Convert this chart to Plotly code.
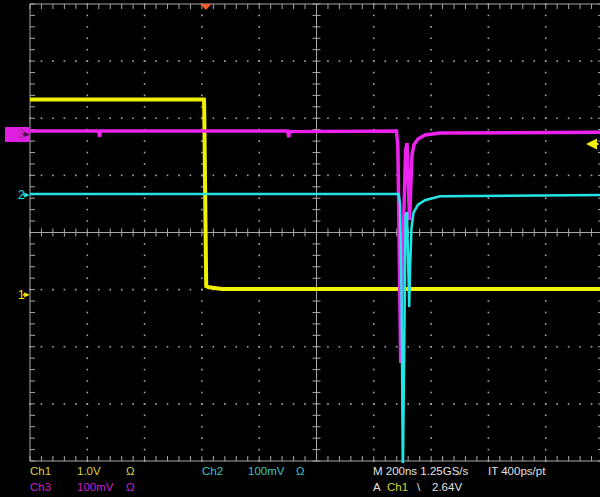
import plotly.graph_objects as go

# ---------------- scope settings (from the on-screen readout) ----------------
CH1_SCALE_V = 1.0        # V/div
CH2_SCALE_MV = 100.0     # mV/div
CH3_SCALE_MV = 100.0     # mV/div
CH1_POS_DIV = -1.09      # ground marker positions, divisions from centre
CH2_POS_DIV = 0.656
CH3_POS_DIV = 1.716
TRIGGER_T_NS = -386
TRIGGER_LEVEL_V = 2.64
TIME_PER_DIV_NS = 200

# ---------------- traces ----------------
CH1_T_NS = [-1000, -393, -392, -391, -389, -387, -385, -375, -360, -330, 1000]
CH1_V    = [3.42, 3.42, 3.30, 2.45, 1.20, 0.21, 0.15, 0.13, 0.12, 0.10, 0.10]

CH3_T_NS = [-1000, -760, -757, -754, -100, -97, -94, 279, 284, 294, 300, 306,
            311, 316, 321.1, 324.6, 328.1, 333.3, 340.3, 354.3, 378.7, 431, 1000]
CH3_MV   = [6, 6, -4, 6, 6, -5, 5, 6, -20, -400, -230, -80,
            -28, -15, -88, -150, -106, -36, -18, -8, -1, 2.5, 4]

CH2_T_NS = [-1000, 287, 292, 297, 301.5, 304.5, 307.5, 311, 315.9, 320.1, 323.6, 327.0,
            331.6, 338.6, 354.3, 378.7, 431, 1000]
CH2_MV   = [2, 2, -17, -184, -490, -324, -114, -35, -30, -114, -196, -122,
            -58, -31, -17, -9, -2, 0]

# ---------------- colours ----------------
YEL = "#f0f000"
MAG = "#ee22ee"
CYA = "#22e6e6"
GRID = "#a8a8a8"
TXT = "#e2e2e2"
TXT_Y = "#d6d63c"
TXT_C = "#3cc4c4"
TXT_M = "#cc22cc"

# ---------------- geometry ----------------
W, H = 600, 497
ML, MR, MT, MB = 27, 0, 2, 34
PW, PH = W - ML - MR, H - MT - MB
NS_PER_PX = TIME_PER_DIV_NS / 57.3
DIV_PER_PX = 1 / 57.125
X0 = -1000 - 3 * NS_PER_PX
Y0 = -4 - 2 * DIV_PER_PX


def px2paper(px, py):
    return (px - ML) / PW, (H - MB - py) / PH


fig = go.Figure()

# ---- graticule dots ----
dx, dy = [], []
for i in range(-4, 5):
    if i == 0:
        continue
    for k in range(-20, 21):
        dx.append(i * TIME_PER_DIV_NS)
        dy.append(k * 0.2)
for j in range(-3, 4):
    if j == 0:
        continue
    for k in range(-25, 26):
        dx.append(k * TIME_PER_DIV_NS / 5)
        dy.append(j)
fig.add_trace(go.Scatter(x=dx, y=dy, mode="markers", hoverinfo="skip",
                         marker=dict(symbol="square", size=1.6, color=GRID, line=dict(width=0))))

# ---- graticule lines and ticks ----
sx, sy = [], []


def seg(x0, y0, x1, y1):
    sx.extend([x0, x1, None])
    sy.extend([y0, y1, None])


seg(-1000, -4, -1000, 4)
seg(-1000, 4, 1000, 4)
seg(-1000, -4, 1000, -4)
seg(1000, -4, 1000, 4)
seg(-1000, 0, 1000, 0)
seg(0, -4, 0, 4)
tx, ty = 5 * NS_PER_PX, 5 * DIV_PER_PX
cx, cy = 4 * NS_PER_PX, 4 * DIV_PER_PX
for k in range(-25, 26):
    t = k * TIME_PER_DIV_NS / 5
    seg(t, 4, t, 4 - ty)
    seg(t, -4, t, -4 + ty)
    seg(t, -cy, t, cy)
for k in range(-20, 21):
    v = k * 0.2
    seg(-1000, v, -1000 + tx, v)
    seg(1000, v, 1000 - tx, v)
    seg(-cx, v, cx, v)
fig.add_trace(go.Scatter(x=sx, y=sy, mode="lines", hoverinfo="skip",
                         line=dict(color=GRID, width=1)))

# ---- signal traces ----
ch1_div = [v / CH1_SCALE_V + CH1_POS_DIV for v in CH1_V]
ch3_div = [v / CH3_SCALE_MV + CH3_POS_DIV for v in CH3_MV]
ch2_div = [v / CH2_SCALE_MV + CH2_POS_DIV for v in CH2_MV]
fig.add_trace(go.Scatter(x=CH1_T_NS, y=ch1_div, mode="lines", line=dict(color=YEL, width=4)))
fig.add_trace(go.Scatter(x=CH3_T_NS, y=ch3_div, mode="lines", line=dict(color=MAG, width=3.5)))
fig.add_trace(go.Scatter(x=CH2_T_NS, y=ch2_div, mode="lines", line=dict(color=CYA, width=2.5)))

shapes = []
ann = []
FONT = "Liberation Sans, Arial, sans-serif"

# trigger position marker (top)
_, yt0 = px2paper(0, 4)
_, yt1 = px2paper(0, 10)
shapes.append(dict(type="path", xref="x", yref="paper",
                   path=f"M {TRIGGER_T_NS - 5.5 * NS_PER_PX},{yt0} L {TRIGGER_T_NS + 5.5 * NS_PER_PX},{yt0} "
                        f"L {TRIGGER_T_NS},{yt1} Z",
                   fillcolor="#ff5a28", line=dict(width=0)))

# trigger level arrow (right)
ax_, _ = px2paper(586, 0)
ann.append(dict(x=ax_, xref="paper", y=TRIGGER_LEVEL_V / CH1_SCALE_V + CH1_POS_DIV, yref="y",
                ax=15, ay=0, text="", showarrow=True, arrowhead=2, arrowsize=1.1,
                arrowwidth=2, arrowcolor=YEL))

# channel ground markers (left)
bx0, by0 = px2paper(5, 127)
bx1, by1 = px2paper(29.5, 142)
shapes.append(dict(type="rect", xref="paper", yref="paper", x0=bx0, x1=bx1, y0=by1, y1=by0,
                   fillcolor="#e020e0", line=dict(width=0)))
markers = [("1", CH1_POS_DIV, YEL, YEL), ("2", CH2_POS_DIV, CYA, CYA), ("3", CH3_POS_DIV, "#9a2a9a", "#4a104a")]
for name, pos, tcol, acol in markers:
    x, _ = px2paper(15.5, 0)
    ann.append(dict(x=x, xref="paper", y=pos, yref="y", text=name, showarrow=False,
                    font=dict(family=FONT, size=12, color=tcol)))
    x, _ = px2paper(29.5, 0)
    ann.append(dict(x=x, xref="paper", y=pos, yref="y", ax=-8, ay=0, text="", showarrow=True,
                    arrowhead=2, arrowsize=0.7, arrowwidth=1.5, arrowcolor=acol))

# bottom readout
READOUT = [
    (30, 471.5, "Ch1", TXT_Y), (77, 471.5, "1.0V", TXT_Y), (126, 471.5, "Ω", TXT_Y),
    (202, 471.5, "Ch2", TXT_C), (248, 471.5, "100mV", TXT_C), (296, 471.5, "Ω", TXT_C),
    (30, 487, "Ch3", TXT_M), (77, 487, "100mV", TXT_M), (126, 487, "Ω", TXT_M),
    (373, 471.5, "M 200ns 1.25GS/s", TXT), (488, 471.5, "IT 400ps/pt", TXT),
    (373, 487, "A", TXT), (387, 487, "Ch1", TXT_Y), (417, 487, "\\", TXT), (432, 487, "2.64V", TXT),
]
for px, py, text, col in READOUT:
    x, y = px2paper(px - 2, py)
    ann.append(dict(x=x, y=y, xref="paper", yref="paper", text=text, showarrow=False,
                    xanchor="left", yanchor="middle",
                    font=dict(family=FONT, size=11.5, color=col)))

fig.update_layout(
    width=W, height=H, margin=dict(l=ML, r=MR, t=MT, b=MB),
    paper_bgcolor="black", plot_bgcolor="black", showlegend=False,
    xaxis=dict(range=[X0, X0 + PW * NS_PER_PX], visible=False, fixedrange=True),
    yaxis=dict(range=[Y0, Y0 + PH * DIV_PER_PX], visible=False, fixedrange=True),
    shapes=shapes, annotations=ann,
)

fig.write_html("out.html", config={"displayModeBar": False},
               post_script="document.body.style.margin='0';document.body.style.background='black';")
